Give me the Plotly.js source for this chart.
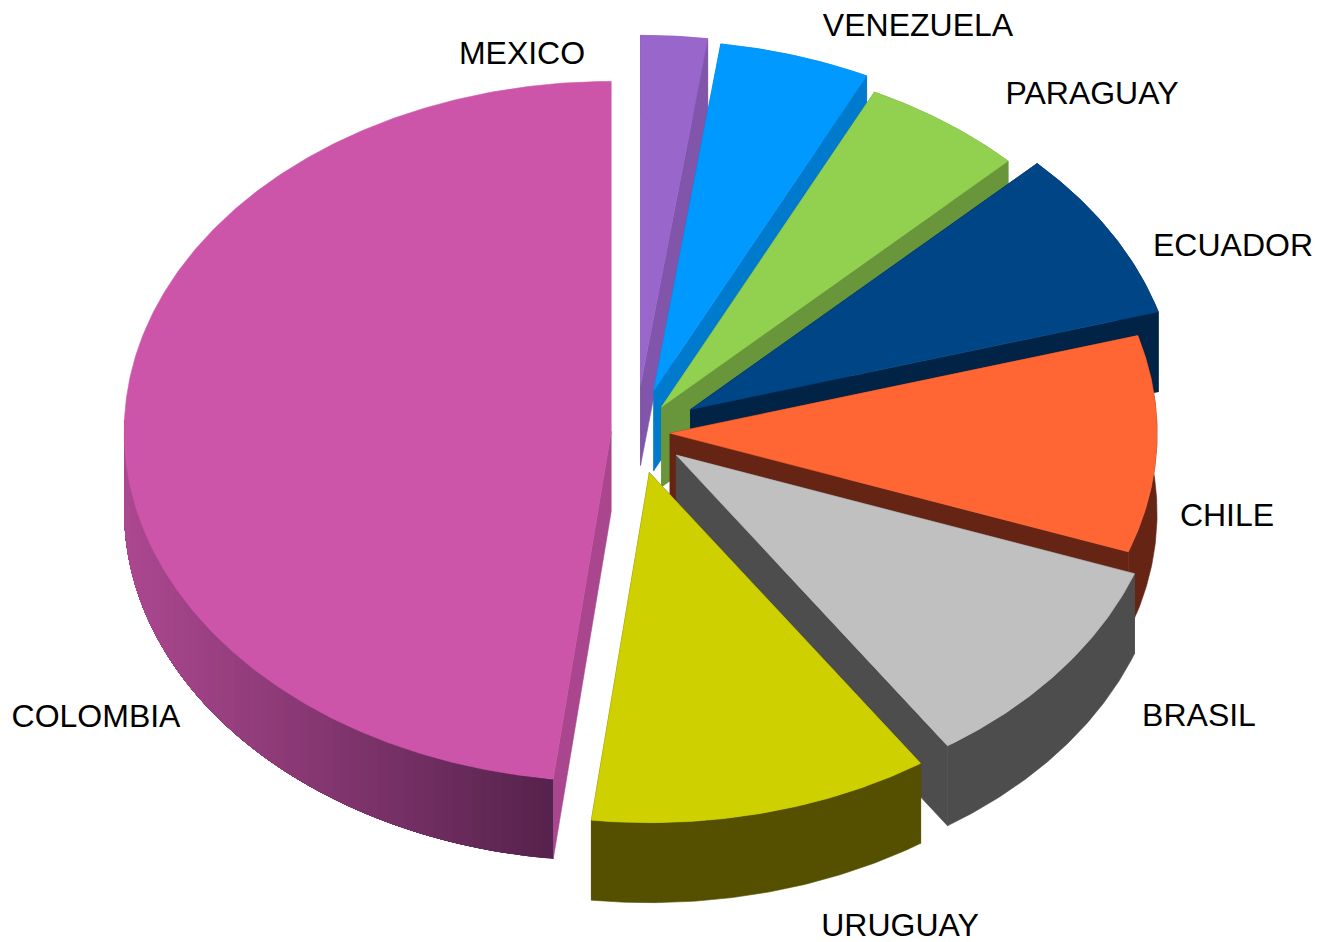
<!DOCTYPE html>
<html>
<head>
<meta charset="utf-8">
<script src="https://cdn.plot.ly/plotly-3.0.1.min.js"></script>
<style>html,body{margin:0;padding:0;background:#fff}#chart{width:1320px;height:942px}</style>
</head>
<body>
<div id="chart"></div>
<script>
// Data, clockwise from 12 o'clock
const categories = ['MEXICO','VENEZUELA','PARAGUAY','ECUADOR','CHILE','BRASIL','URUGUAY','COLOMBIA'];
const shares     = [2.2, 5.0, 5.4, 7.9, 10.0, 10.1, 11.3, 48.1];
const pulls      = [0.135, 0.125, 0.09, 0.13, 0.07, 0.105, 0.118, 0.051];
const topColors  = ['#9966cc','#0099ff','#92d050','#004586','#ff6633','#c0c0c0','#cfd000','#cc55aa'];
const wallColors = ['#8055aa','#007acc','#69963a','#002346','#662514','#4d4d4d','#555000','#aa468e'];
const labelX = [522, 918, 1092, 1233, 1227, 1199, 900, 96];
const labelY = [56, 28, 96, 248, 518, 718, 928, 719];

// Projection of the tilted pie
const cx = 636, cy = 432.5, rx = 487, ry = 350, depth = 80;
const total = shares.reduce((a, b) => a + b, 0);
const rad = d => d * Math.PI / 180;
const drawOrder = [0, 1, 2, 3, 4, 7, 5, 6];

let cum = 0;
const slices = shares.map((v, i) => {
  const a0 = cum / total * 360; cum += v;
  const a1 = cum / total * 360; const m = (a0 + a1) / 2;
  return { a0, a1,
    ax: cx + pulls[i] * rx * Math.sin(rad(m)),
    ay: cy - pulls[i] * ry * Math.cos(rad(m)) };
});
const rimPt = (s, a, dz) => [s.ax + rx * Math.sin(rad(a)), s.ay - ry * Math.cos(rad(a)) + dz];
function arc(s, a0, a1, dz) {
  const n = Math.max(2, Math.ceil((a1 - a0) * 2)), p = [];
  for (let k = 0; k <= n; k++) p.push(rimPt(s, a0 + (a1 - a0) * k / n, dz));
  return p;
}
function poly(pts, color, lw) {
  const c = pts.concat([pts[0]]);
  return { type: 'scatter', mode: 'lines', x: c.map(p => p[0]), y: c.map(p => p[1]),
    fill: 'toself', fillcolor: color, line: { width: lw === undefined ? 0.6 : lw, color: color },
    hoverinfo: 'skip', showlegend: false };
}
function cutFace(s, a, color) {
  const o = rimPt(s, a, 0);
  return poly([[s.ax, s.ay], o, [o[0], o[1] + depth], [s.ax, s.ay + depth]], color);
}
function rimBand(s, a0, a1, color, lw) {
  return poly(arc(s, a0, a1, 0).concat(arc(s, a0, a1, depth).reverse()), color, lw);
}
function mix(c0, c1, t) { return 'rgb(' + c0.map((v, i) => Math.round(v + (c1[i] - v) * t)).join(',') + ')'; }

const traces = [];
drawOrder.forEach(i => {
  const s = slices[i], name = categories[i];
  if (name === 'COLOMBIA') {
    // Shaded rim: each band runs on to the dark end and is overpainted by the next, so no seams show
    const aStart = s.a0, aEnd = 272, steps = 70;
    traces.push(cutFace(s, s.a0, wallColors[i]));
    const xLeft = rimPt(s, 270, 0)[0], xRight = rimPt(s, s.a0, 0)[0];
    for (let k = 0; k < steps; k++) {
      const a0 = aStart + (aEnd - aStart) * k / steps, a1 = aStart + (aEnd - aStart) * (k + 1) / steps;
      const t = Math.min(1, Math.max(0, (rimPt(s, (a0 + a1) / 2, 0)[0] - xLeft) / (xRight - xLeft)));
      traces.push(rimBand(s, a0, aEnd, mix([172, 72, 144], [86, 34, 76], t), 0));
    }
  } else {
    traces.push(cutFace(s, s.a0, wallColors[i]));
    traces.push(cutFace(s, s.a1, wallColors[i]));
    traces.push(rimBand(s, s.a0, s.a1, wallColors[i]));
  }
  traces.push(poly([[s.ax, s.ay]].concat(arc(s, s.a0, s.a1, 0)), topColors[i]));
});
traces.push({ type: 'scatter', mode: 'text', x: labelX, y: labelY, text: categories,
  textposition: 'middle center', cliponaxis: false, hoverinfo: 'skip', showlegend: false,
  textfont: { family: '"Liberation Sans", Arial, sans-serif', size: 32, color: '#000' } });

const hidden = { visible: false, fixedrange: true };
Plotly.newPlot('chart', traces, {
  width: 1320, height: 942, margin: { l: 0, r: 0, t: 0, b: 0 },
  paper_bgcolor: '#fff', plot_bgcolor: '#fff', showlegend: false,
  xaxis: Object.assign({ range: [0, 1320] }, hidden),
  yaxis: Object.assign({ range: [942, 0] }, hidden)
}, { displayModeBar: false, staticPlot: true });
</script>
</body>
</html>
